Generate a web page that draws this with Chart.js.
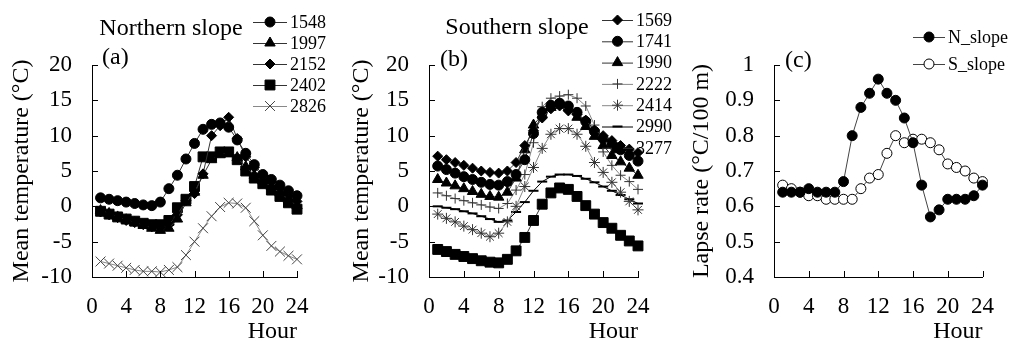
<!DOCTYPE html>
<html><head><meta charset="utf-8">
<script src="https://cdn.jsdelivr.net/npm/chart.js@4.4.1/dist/chart.umd.min.js"></script>
<style>
html,body{margin:0;padding:0;background:#fff;width:1010px;height:341px;overflow:hidden}
canvas{position:absolute;top:0}
</style></head><body>
<canvas id="ca" width="340" height="341" style="left:0px;width:340px;height:341px"></canvas>
<canvas id="cb" width="340" height="341" style="left:340px;width:340px;height:341px"></canvas>
<canvas id="cc" width="340" height="341" style="left:670px;width:340px;height:341px"></canvas>
<script>
const hours = [1,2,3,4,5,6,7,8,9,10,11,12,13,14,15,16,17,18,19,20,21,22,23,24];
const hourTicks = [0,4,8,12,16,20,24];

// (a) Northern slope
const n1548 = [1.2,1.0,0.8,0.6,0.4,0.2,0.1,0.6,2.5,4.4,6.7,8.9,10.9,11.6,11.8,11.2,9.4,7.5,5.9,4.5,3.8,3.0,2.2,1.5];
const n1997 = [-0.6,-1.0,-1.5,-1.9,-2.3,-2.7,-3.1,-3.4,-3.1,-1.8,0.5,2.0,4.4,6.6,7.3,7.5,6.9,5.6,4.4,3.6,2.8,1.9,1.0,0.1];
const n2152 = [-0.8,-1.2,-1.6,-2.0,-2.3,-2.6,-2.9,-3.0,-2.6,-1.2,0.8,1.8,4.6,10.0,11.4,12.6,9.6,7.0,5.5,4.4,3.5,2.5,1.5,0.7];
const n2402 = [-0.7,-1.1,-1.5,-1.8,-2.1,-2.4,-2.6,-2.6,-2.0,-0.2,1.0,2.8,7.0,7.0,7.7,7.7,6.6,5.0,4.0,3.2,2.3,1.4,0.5,-0.4];
const n2826 = [-7.8,-8.1,-8.4,-8.7,-9.0,-9.2,-9.2,-9.3,-9.0,-8.6,-6.9,-5.0,-3.1,-1.4,-0.1,0.5,0.4,-0.2,-2.1,-4.1,-5.6,-6.4,-7.0,-7.5];

// (b) Southern slope
const s1569 = [7.1,6.6,6.2,5.8,5.4,5.0,4.8,4.7,5.0,6.2,8.6,10.7,12.5,13.8,14.2,13.5,13.0,12.2,10.8,10.0,9.3,8.6,8.1,7.6];
const s1741 = [5.7,5.2,4.7,4.2,3.8,3.4,3.1,3.0,3.5,4.5,6.6,10.3,13.3,14.3,14.6,14.2,13.3,12.0,10.6,9.6,8.8,8.0,7.2,6.4];
const s1990 = [3.8,3.3,2.9,2.5,2.1,1.7,1.4,1.3,2.0,4.0,8.0,11.5,13.0,14.0,14.3,14.0,12.6,11.3,9.9,8.6,7.2,6.3,5.4,4.4];
const s2222 = [1.9,1.5,1.1,0.8,0.5,0.2,-0.1,-0.3,0.4,2.3,4.5,9.0,14.1,15.3,15.6,15.8,15.3,14.2,11.5,7.7,5.8,4.4,3.5,2.4];
const s2414 = [-1.1,-1.7,-2.2,-2.8,-3.3,-3.8,-4.3,-3.8,-2.2,0.0,2.8,5.5,8.2,10.2,11.0,11.0,10.2,8.5,6.2,4.8,3.4,2.0,0.7,-0.5];
const s2990 = [0.0,-0.2,-0.4,-0.7,-1.0,-1.4,-1.8,-2.2,-2.0,-0.8,0.6,2.2,3.5,4.2,4.5,4.5,4.3,3.9,3.4,2.8,2.2,1.6,1.0,0.4];
const s3277 = [-6.1,-6.4,-6.8,-7.1,-7.4,-7.7,-7.9,-8.0,-7.5,-6.3,-4.4,-2.0,0.3,1.9,2.6,2.4,1.4,0.1,-1.1,-2.3,-3.1,-4.1,-4.9,-5.6];

// (c) Lapse rate
const nSlope = [0.64,0.64,0.64,0.65,0.64,0.64,0.64,0.67,0.80,0.88,0.92,0.96,0.92,0.90,0.85,0.78,0.66,0.57,0.59,0.62,0.62,0.62,0.63,0.66];
const sSlope = [0.66,0.65,0.64,0.63,0.63,0.62,0.62,0.62,0.62,0.65,0.68,0.69,0.75,0.80,0.78,0.79,0.79,0.78,0.76,0.72,0.71,0.70,0.68,0.67];

const tempTicks = [-10,-5,0,5,10,15,20];
const lapseTicks = [0.4,0.5,0.6,0.7,0.8,0.9,1];

const FONT = "'Liberation Serif', 'Times New Roman', serif";
Chart.defaults.font.family = FONT;
Chart.defaults.color = '#000';

function ds(label, values, style, radius, lineColor, fill, stroke, bw) {
  return {
    label, data: values.map((v, i) => ({x: hours[i], y: v})),
    pointStyle: style, pointRadius: radius, pointHoverRadius: radius,
    pointBackgroundColor: fill, pointBorderColor: stroke, pointBorderWidth: bw,
    borderColor: lineColor, borderWidth: 1, tension: 0, clip: false, fill: false
  };
}

function drawMarker(ctx, d, x, y) {
  ctx.save();
  ctx.fillStyle = d.pointBackgroundColor;
  ctx.strokeStyle = d.pointBorderColor;
  ctx.lineWidth = d.pointBorderWidth;
  if (Chart.helpers && Chart.helpers.drawPoint) {
    Chart.helpers.drawPoint(ctx, {pointStyle: d.pointStyle, radius: d.pointRadius, rotation: 0, borderWidth: d.pointBorderWidth}, x, y);
  } else {
    ctx.beginPath(); ctx.arc(x, y, d.pointRadius, 0, Math.PI * 2); ctx.fill(); ctx.stroke();
  }
  ctx.restore();
}

const extras = {
  id: 'extras',
  afterDraw(chart, args, o) {
    const ctx = chart.ctx, ca = chart.chartArea;
    const xs = chart.scales.x, ys = chart.scales.y;
    ctx.save();
    ctx.strokeStyle = '#000'; ctx.lineWidth = 1;
    ys.ticks.forEach(t => {
      const py = Math.round(ys.getPixelForValue(t.value)) + 0.5;
      ctx.beginPath(); ctx.moveTo(ca.left, py); ctx.lineTo(ca.left + 6, py); ctx.stroke();
    });
    xs.ticks.forEach(t => {
      const px = Math.round(xs.getPixelForValue(t.value)) + 0.5;
      ctx.beginPath(); ctx.moveTo(px, ca.bottom); ctx.lineTo(px, ca.bottom - 6); ctx.stroke();
    });
    ctx.fillStyle = '#000';
    ctx.textBaseline = 'alphabetic';
    ctx.font = '24px ' + FONT;
    if (o.title) { ctx.textAlign = 'center'; ctx.fillText(o.title.text, o.title.x, o.title.y); }
    if (o.tag) { ctx.textAlign = 'left'; ctx.fillText(o.tag.text, o.tag.x, o.tag.y); }
    const L = o.legend;
    ctx.font = '18px ' + FONT;
    ctx.textBaseline = 'middle';
    ctx.textAlign = 'left';
    chart.data.datasets.forEach((d, i) => {
      const y = L.y0 + i * L.dy;
      ctx.strokeStyle = d.borderColor; ctx.lineWidth = 1;
      ctx.beginPath(); ctx.moveTo(L.x, y + 0.5); ctx.lineTo(L.x + L.len, y + 0.5); ctx.stroke();
      drawMarker(ctx, d, L.x + L.len / 2, y);
      ctx.fillStyle = '#000';
      ctx.fillText(d.label, L.x + L.len + 3, y + 1);
    });
    ctx.restore();
  }
};

function makeChart(id, datasets, yCfg, yTitle, yWidth, yTitlePad, rightPad, extraOpts) {
  return new Chart(document.getElementById(id), {
    type: 'line',
    data: {datasets},
    options: {
      responsive: false, animation: false, devicePixelRatio: 1,
      layout: {padding: {left: 0, top: 65, right: rightPad, bottom: 0}},
      plugins: {legend: {display: false}, tooltip: {enabled: false}, extras: extraOpts},
      scales: {
        x: {
          type: 'linear', min: 0, max: 24,
          afterBuildTicks: s => { s.ticks = hourTicks.map(v => ({value: v})); },
          ticks: {font: {size: 23}, color: '#000', padding: 16, maxRotation: 0, autoSkip: false},
          grid: {display: false, drawTicks: false},
          border: {display: true, color: '#000', width: 1},
          title: {display: true, text: 'Hour', align: 'end', color: '#000', font: {size: 24, lineHeight: 0.8}, padding: 0},
          afterFit: s => { s.height = 64; }
        },
        y: {
          type: 'linear', min: yCfg.min, max: yCfg.max,
          afterBuildTicks: s => { s.ticks = yCfg.ticks.map(v => ({value: v})); },
          ticks: {font: {size: 23}, color: '#000', padding: 20, callback: v => String(Math.round(v * 10) / 10)},
          grid: {display: false, drawTicks: false},
          border: {display: true, color: '#000', width: 1},
          title: {display: true, text: yTitle, color: '#000', font: {size: 24, lineHeight: 1.2}, padding: {top: yTitlePad, bottom: 0}},
          afterFit: s => { s.width = yWidth; }
        }
      }
    },
    plugins: [extras]
  });
}

const K = '#333', G = '#888';

makeChart('ca', [
  ds('1548', n1548, 'circle', 5, K, '#000', '#000', 1),
  ds('1997', n1997, 'triangle', 6, K, '#000', '#000', 1),
  ds('2152', n2152, 'rectRot', 5, K, '#000', '#000', 1),
  ds('2402', n2402, 'rect', 7, K, '#000', '#000', 1),
  ds('2826', n2826, 'crossRot', 7, G, '#444', '#444', 1)
], {min: -10, max: 20, ticks: tempTicks}, 'Mean temperature (°C)', 92, 7.6, 43, {
  title: {text: 'Northern slope', x: 171, y: 35},
  tag: {text: '(a)', x: 102, y: 64},
  legend: {x: 253, y0: 22, dy: 21, len: 34}
});

makeChart('cb', [
  ds('1569', s1569, 'rectRot', 5, K, '#000', '#000', 1),
  ds('1741', s1741, 'circle', 5, K, '#000', '#000', 1),
  ds('1990', s1990, 'triangle', 6, K, '#000', '#000', 1),
  ds('2222', s2222, 'cross', 5, G, '#333', '#333', 1),
  ds('2414', s2414, 'star', 5.5, G, '#333', '#333', 1),
  ds('2990', s2990, 'line', 5, '#000', '#000', '#000', 2),
  ds('3277', s3277, 'rect', 7, K, '#000', '#000', 1)
], {min: -10, max: 20, ticks: tempTicks}, 'Mean temperature (°C)', 89, 7.6, 42, {
  title: {text: 'Southern slope', x: 177, y: 34},
  tag: {text: '(b)', x: 100, y: 66},
  legend: {x: 262, y0: 20, dy: 21.3, len: 31}
});

makeChart('cc', [
  ds('N_slope', nSlope, 'circle', 5, '#444', '#000', '#000', 1),
  ds('S_slope', sSlope, 'circle', 5, '#444', '#fff', '#000', 1)
], {min: 0.4, max: 1, ticks: lapseTicks}, 'Lapse rate (°C/100 m)', 104, 17.6, 12, {
  tag: {text: '(c)', x: 115, y: 67},
  legend: {x: 243, y0: 37, dy: 27, len: 32}
});
</script>
</body></html>
